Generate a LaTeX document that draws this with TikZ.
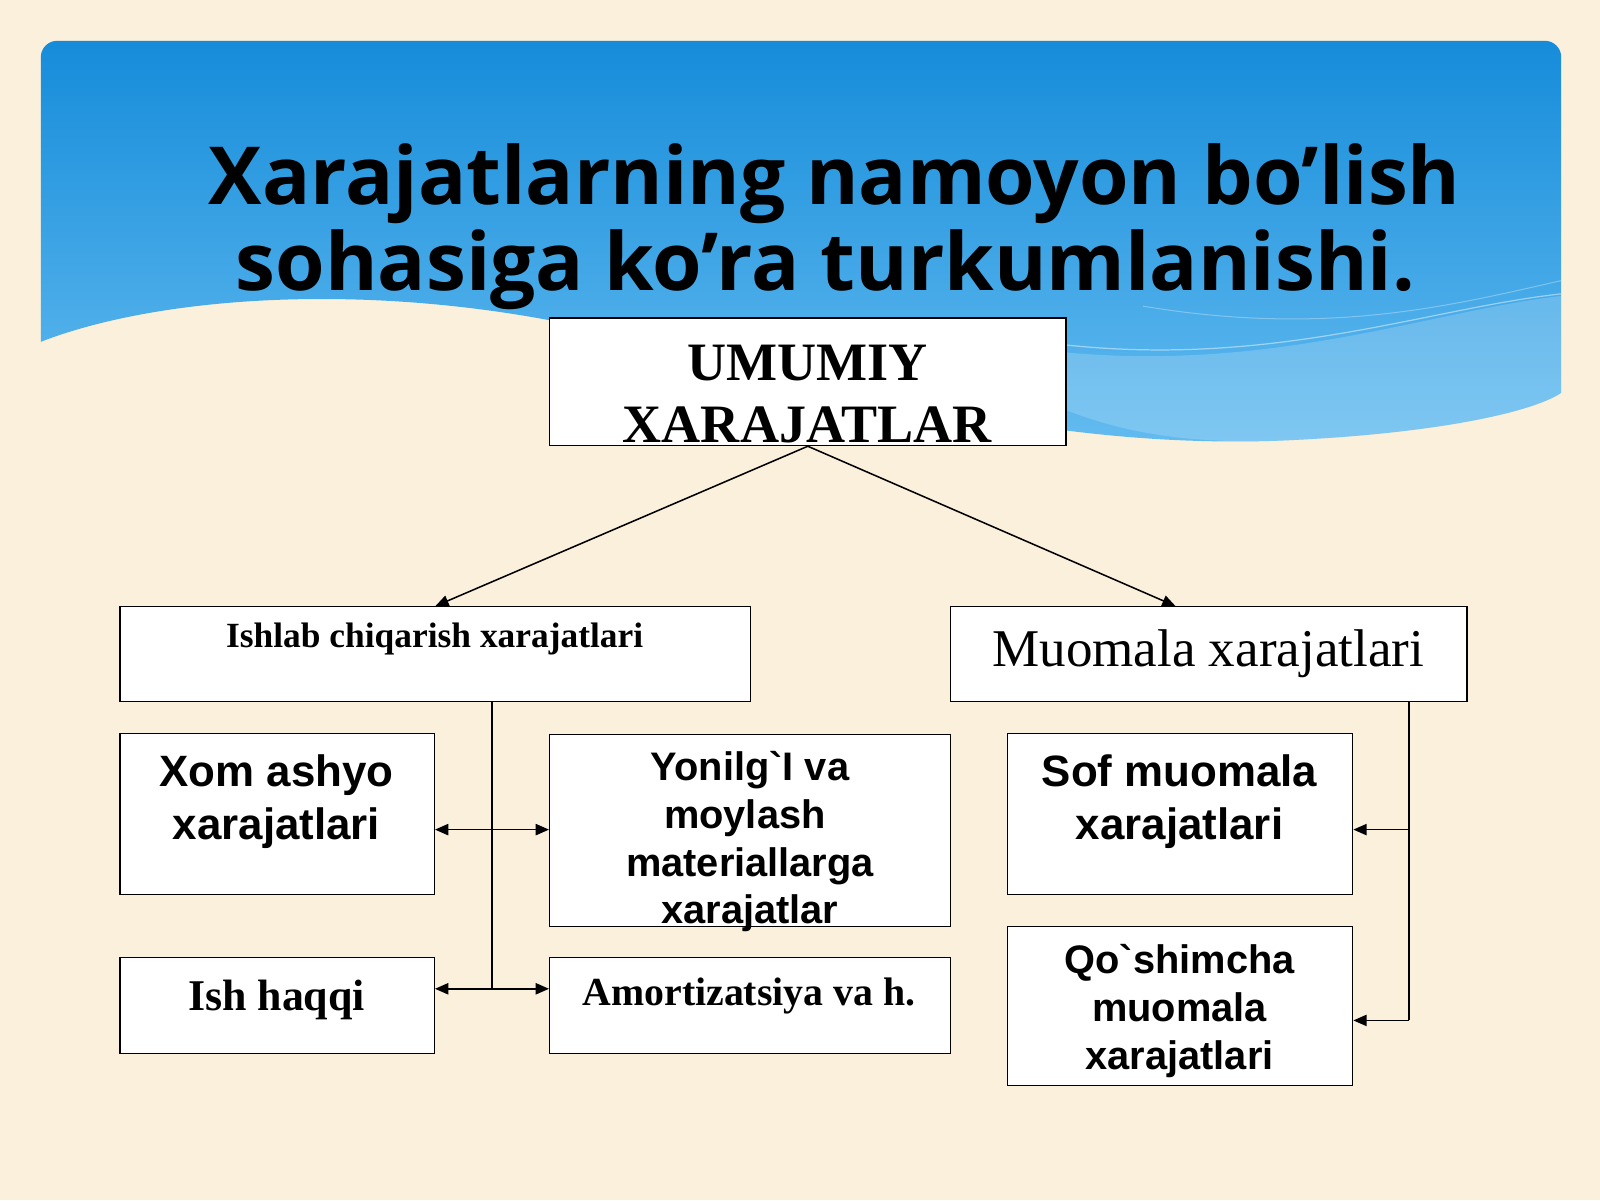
\documentclass[tikz,border=0pt]{standalone}
\usepackage{fontspec}
\setmainfont{Liberation Serif}
\setsansfont{Liberation Sans}
\newfontfamily\titlefont{Open Sans}
\usetikzlibrary{arrows.meta,calc}
\definecolor{beige}{RGB}{250,240,219}
\definecolor{bluetop}{RGB}{22,140,218}
\definecolor{bluebot}{RGB}{100,188,240}
\tikzset{
  box/.style={draw=black, line width=1.3pt, fill=white, inner sep=0pt, anchor=north west},
  tl/.style={anchor=base, inner sep=0pt, font=\titlefont\bfseries\fontsize{78.5}{85}\selectfont},
  serb/.style={anchor=base, inner sep=0pt, font=\bfseries\fontsize{#1}{#1}\selectfont},
  serr/.style={anchor=base, inner sep=0pt, font=\fontsize{#1}{#1}\selectfont},
  sanb/.style={anchor=base, inner sep=0pt, font=\sffamily\bfseries\fontsize{#1}{#1}\selectfont},
  arr/.style={line width=1.5pt, -{Triangle[length=13pt,width=11pt]}},
  darr/.style={line width=1.5pt, {Triangle[length=13pt,width=11pt]}-{Triangle[length=13pt,width=11pt]}},
  conn/.style={line width=1.5pt}
}
\begin{document}
\begin{tikzpicture}[x=1pt,y=-1pt]
\useasboundingbox (0,0) rectangle (1568,1176);
\fill[beige] (0,0) rectangle (1568,1176);
% blue header band
\begin{scope}
\clip[rounded corners=16pt] (40,40) rectangle (1530,470);
\shade[top color=bluetop, bottom color=bluebot]
  (40,335) .. controls (150,292) and (350,275) .. (560,318)
  .. controls (800,370) and (1000,440) .. (1250,432)
  .. controls (1400,426) and (1500,405) .. (1530,385)
  -- (1530,40) -- (40,40) -- cycle;
\fill[white, opacity=0.18]
  (1040,345) .. controls (1250,365) and (1400,305) .. (1530,290)
  -- (1530,385) .. controls (1500,405) and (1400,426) .. (1250,432)
  .. controls (1150,435) and (1090,420) .. (1040,400) -- cycle;
\draw[white, opacity=0.45, line width=1.2pt]
  (1044,338) .. controls (1250,360) and (1400,302) .. (1530,288);
\draw[white, opacity=0.3, line width=1pt]
  (1120,300) .. controls (1300,330) and (1420,300) .. (1530,275);
\end{scope}
% title
\node[tl] (title1) at (818,200) {Xarajatlarning namoyon bo’lish};
\node[tl] (title2) at (809,285) {sohasiga ko’ra turkumlanishi.};
% boxes
\node[box, minimum width=506, minimum height=125] (umumiy) at (538,311) {};
\node[box, minimum width=618, minimum height=93] (ishlab) at (117,594) {};
\node[box, minimum width=506, minimum height=93] (muomala) at (931,594) {};
\node[box, minimum width=308, minimum height=158] (xom) at (117,718) {};
\node[box, minimum width=393, minimum height=188] (yon) at (538,719) {};
\node[box, minimum width=308, minimum height=94] (ish) at (117,938) {};
\node[box, minimum width=393, minimum height=94] (amort) at (538,938) {};
\node[box, minimum width=338, minimum height=158] (sof) at (987,718) {};
\node[box, minimum width=338, minimum height=156] (qosh) at (987,907) {};
% texts
\node[serb=53] (u1) at (791,373) {UMUMIY};
\node[serb=53] (u2) at (791,434) {XARAJATLAR};
\node[serb=34.7] (i1) at (426,635) {Ishlab chiqarish xarajatlari};
\node[serr=52] (m1) at (1184,653) {Muomala xarajatlari};
\node[sanb=43] (x1) at (271,771) {Xom ashyo};
\node[sanb=43] (x2) at (271,823) {xarajatlari};
\node[sanb=39] (y1) at (735,765) {Yonilg\textasciigrave I va};
\node[sanb=39] (y2) at (730,812) {moylash};
\node[sanb=39] (y3) at (735,859) {materiallarga};
\node[sanb=39] (y4) at (735,905) {xarajatlar};
\node[serb=43] (h1) at (271,990) {Ish haqqi};
\node[serb=39] (a1) at (734,985) {Amortizatsiya va h.};
\node[sanb=43] (s1) at (1156,771) {Sof muomala};
\node[sanb=43] (s2) at (1156,823) {xarajatlari};
\node[sanb=39] (q1) at (1156,954) {Qo\textasciigrave shimcha};
\node[sanb=39] (q2) at (1156,1001) {muomala};
\node[sanb=39] (q3) at (1156,1048) {xarajatlari};
% connectors
\coordinate (mtop) at (1152,594);
\coordinate (j1) at (482,813);
\coordinate (j2) at (482,969);
\coordinate (k1) at (1381,813);
\coordinate (k2) at (1381,1000);
\draw[arr] (umumiy.south) -- (ishlab.north);
\draw[arr] (umumiy.south) -- (mtop);
\draw[conn] (ishlab.south -| j1) -- (j2);
\draw[darr] (xom.east |- j1) -- (yon.west |- j1);
\draw[darr] (ish.east |- j2) -- (amort.west |- j2);
\draw[conn] (muomala.south -| k1) -- (k2);
\draw[arr] (k1) -- (sof.east |- k1);
\draw[arr] (k2) -- (qosh.east |- k2);
\end{tikzpicture}
\end{document}
